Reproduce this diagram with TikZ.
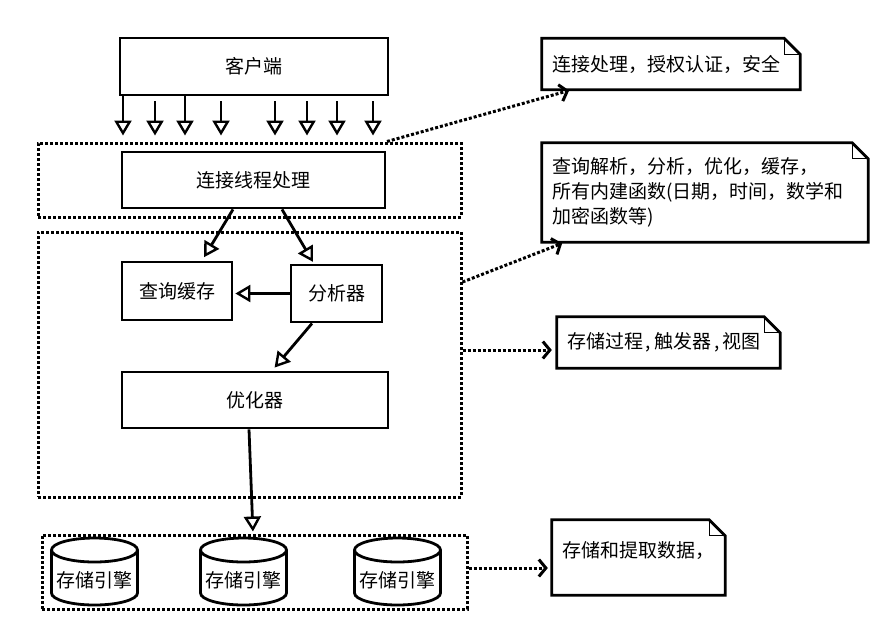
\documentclass[tikz,border=0pt]{standalone}
\usepackage{fontspec}
\setmainfont{Noto Sans CJK SC}
\usetikzlibrary{arrows.meta,calc,positioning}

\begin{document}
\begin{tikzpicture}[x=1pt, y=-1pt,
  txt/.style={font=\fontsize{19}{25}\selectfont},
  box/.style={draw, txt, line width=2.8pt, inner sep=0pt},
  group/.style={draw, line width=3pt, dash pattern=on 3pt off 2pt, inner sep=0pt},
  note/.style={txt, inner xsep=10pt, inner ysep=0pt, align=left},
  flow/.style={line width=2.8pt, -{Triangle[open, length=15pt, width=17pt, line width=2.4pt]}},
  link/.style={line width=3pt, dash pattern=on 3pt off 2pt, shorten >=3pt,
    -{Straight Barb[length=7pt, width=17pt, line width=3pt]}}]
  \useasboundingbox (0,0) rectangle (890,641);
  % server layers
  \node[box, minimum width=268pt, minimum height=57pt] (client) at (254,66.5) {客户端};
  \node[group, minimum width=423pt, minimum height=74pt] (grp1) at (249.5,180) {};
  \node[box, minimum width=263pt, minimum height=56pt] (conn) at (253.5,180) {连接线程处理};
  \node[group, minimum width=423pt, minimum height=265pt] (grp2) at (249.5,364.5) {};
  \node[box, minimum width=110pt, minimum height=58pt] (cache) at (177,291) {查询缓存};
  \node[box, minimum width=91pt, minimum height=57pt] (parser) at (336.5,293.5) {分析器};
  \node[box, minimum width=266pt, minimum height=56pt] (opt) at (255,400) {优化器};
  \node[group, minimum width=425pt, minimum height=74pt] (grp3) at (254.5,572) {};
  % storage engines
  \foreach \i/\cx in {1/94.5,2/243.5,3/397.5} {
    \draw[line width=2.8pt] (\cx-43,550) arc[start angle=180, end angle=0, x radius=43pt, y radius=12pt]
      -- (\cx+43,593) arc[start angle=0, end angle=-180, x radius=43pt, y radius=12pt] -- cycle;
    \draw[line width=2.8pt] (\cx-43,550) arc[start angle=180, end angle=360, x radius=43pt, y radius=12pt];
    \node[txt] (se\i) at (\cx,580) {存储引擎};
  }
  % notes
  \node[note, text width=238pt, minimum height=51pt] (note1) at (671,64) {连接处理，授权认证，安全};
  \node[note, text width=306pt, minimum height=99pt] (note2) at (705,192.5)
    {查询解析，分析，优化，缓存，\\所有内建函数(日期，时间，数学和\\加密函数等)};
  \node[note, text width=203pt, minimum height=51pt] (note3) at (668.5,342.5)
    {存储过程\hspace{3pt},\hspace{3pt}触发器\hspace{3pt},\hspace{3pt}视图};
  \node[note, text width=153pt, minimum height=75pt, text depth=16pt] (note4) at (638.5,557.5) {存储和提取数据，};
  \foreach \n in {note1,note2,note3,note4} {
    \draw[line width=2.8pt] (\n.north west) -- ([xshift=-16pt]\n.north east)
      -- ([yshift=-16pt]\n.north east) -- (\n.south east) -- (\n.south west) -- cycle;
    \draw[line width=1pt] ([xshift=-16pt]\n.north east) |- ([yshift=-16pt]\n.north east);
  }
  % client connections
  \path (client.south) ++(0,5) coordinate (gap);
  \path (grp1.north) ++(0,-6) coordinate (drop);
  \foreach \x/\s in {123/client.south,155/gap,185/client.south,221/gap,275/gap,307/gap,337/gap,373/gap}
    \draw[flow] (\x,0 |- \s) -- (\x,0 |- drop);
  % query path
  \draw[flow, shorten >=4pt] (233,0 |- conn.south) -- (202,0 |- cache.north);
  \draw[flow, shorten >=2pt] (282,0 |- conn.south) -- (314,0 |- parser.north);
  \draw[flow, shorten >=2pt] (parser.west) -- (parser.west -| cache.east);
  \draw[flow, shorten >=4pt] (312,0 |- parser.south) -- (272,0 |- opt.north);
  \draw[flow, shorten >=2pt] (249,0 |- opt.south) -- (253,0 |- grp3.north);
  % annotations
  \draw[link] (387,0 |- grp1.north) -- (572,0 |- note1.south);
  \draw[link] (grp2.east |- 0,282) -- (565,0 |- note2.south);
  \draw[link, shorten >=5pt] (grp2.east |- 0,350) -- (note3.west |- 0,350);
  \draw[link, shorten >=4pt] (grp3.east |- 0,568) -- (note4.west |- 0,568);
\end{tikzpicture}
\end{document}
